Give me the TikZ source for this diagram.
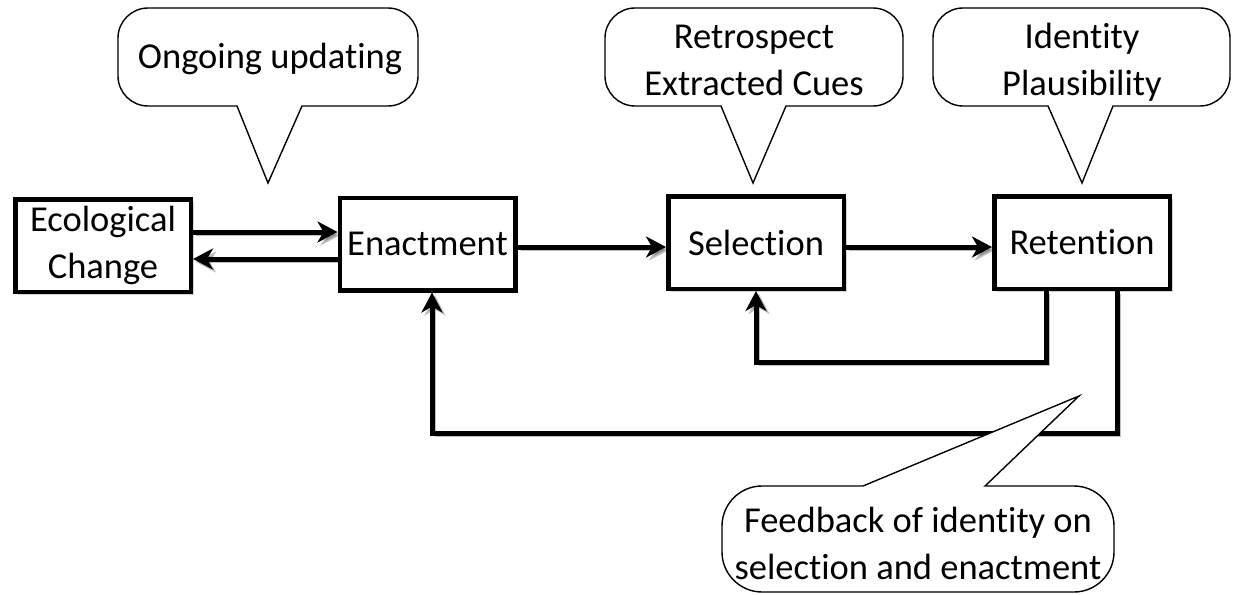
\documentclass[tikz,border=0pt]{standalone}
\usepackage{fontspec}
\setmainfont{Carlito}[Ligatures=NoCommon]
\usetikzlibrary{arrows.meta,shadows}

% speech bubble with its pointer on the lower edge:
% #1 left, #2 top, #3 right, #4 bottom, #5 corner radius,
% #6/#7 pointer base left/right, #8/#9 pointer tip
\newcommand\bubbledown[9]{%
  \filldraw[bubble] (#6,#4) -- (#8,#9) -- (#7,#4) -- ({#3-#5},#4)
    .. controls ({#3-0.45*#5},#4) and (#3,{#4-0.45*#5}) .. (#3,{#4-#5})
    -- (#3,{#2+#5})
    .. controls (#3,{#2+0.45*#5}) and ({#3-0.45*#5},#2) .. ({#3-#5},#2)
    -- ({#1+#5},#2)
    .. controls ({#1+0.45*#5},#2) and (#1,{#2+0.45*#5}) .. (#1,{#2+#5})
    -- (#1,{#4-#5})
    .. controls (#1,{#4-0.45*#5}) and ({#1+0.45*#5},#4) .. ({#1+#5},#4)
    -- cycle;}
% the same with its pointer on the upper edge
\newcommand\bubbleup[9]{%
  \filldraw[bubble] (#6,#2) -- (#8,#9) -- (#7,#2) -- ({#3-#5},#2)
    .. controls ({#3-0.45*#5},#2) and (#3,{#2+0.45*#5}) .. (#3,{#2+#5})
    -- (#3,{#4-#5})
    .. controls (#3,{#4-0.45*#5}) and ({#3-0.45*#5},#4) .. ({#3-#5},#4)
    -- ({#1+#5},#4)
    .. controls ({#1+0.45*#5},#4) and (#1,{#4-0.45*#5}) .. (#1,{#4-#5})
    -- (#1,{#2+#5})
    .. controls (#1,{#2+0.45*#5}) and ({#1+0.45*#5},#2) .. ({#1+#5},#2)
    -- cycle;}

\tikzset{
  label font/.style={font=\fontsize{36.5}{47}\selectfont},
  box/.style={draw, line width=4.5pt, fill=white, label font,
    minimum width=175.5pt, minimum height=92.5pt, inner sep=0pt, align=center,
    drop shadow={shadow xshift=3pt, shadow yshift=-3pt, opacity=.35}},
  link/.style={line width=5pt, line join=miter,
    preaction={draw=black, opacity=.25, transform canvas={shift={(3pt,-3pt)}}}},
  conn/.style={link, -{Stealth[length=20pt,width=21pt,inset=6pt]}},
  bubble/.style={draw, line width=1.4pt, fill=white},
  txt/.style={label font, inner sep=0pt, align=center, anchor=base}
}

\begin{document}
\begin{tikzpicture}[x=1pt,y=-1pt]
\useasboundingbox (0,0) rectangle (1233,594);

% process boxes
\node[box] (eco)   at (103,245.5) {Ecological\\Change};
\node[box] (enact) at (427.5,244) {\raisebox{-3pt}{Enactment}};
\node[box] (sel)   at (756,242.5) {\raisebox{-3pt}{Selection}};
\node[box] (ret)   at (1082,242.5) {\raisebox{-3pt}{Retention}};

% forward flow
\draw[conn] (eco.east |- 0,232) -- (enact.west |- 0,232);
\draw[conn] (enact.west |- 0,259) -- (eco.east |- 0,259);
\draw[conn] (enact.east |- 0,247) -- (sel.west |- 0,247);
\draw[conn] (sel.east |- 0,247) -- (ret.west |- 0,247);

% feedback loops
\draw[conn] (ret.south -| 1046,0) -- (1046,362) -- (756,362) -- (sel.south);
\draw[conn] (ret.south -| 1117,0) -- (1117,433) -- (432,433) -- (enact.south -| 432,0);

% callouts (a multi-line node sits on the baseline of its last line)
\bubbledown{118}{8}{418}{106}{30}{237}{302}{268}{183}
\node[txt] (ongoing) at (270,68) {Ongoing updating};

\bubbledown{605}{8}{903}{106}{30}{721}{786}{753}{183}
\node[txt] (retro) at (754,95) {Retrospect\\Extracted Cues};

\bubbledown{933}{8}{1230}{106}{30}{1048}{1113}{1082}{183}
\node[txt] (ident) at (1082,95) {Identity\\Plausibility};

\bubbleup{722}{486}{1114}{592}{40}{863}{985}{1079}{396}
\node[txt] (feed) at (918,579) {Feedback of identity on\\selection and enactment};
\end{tikzpicture}
\end{document}
